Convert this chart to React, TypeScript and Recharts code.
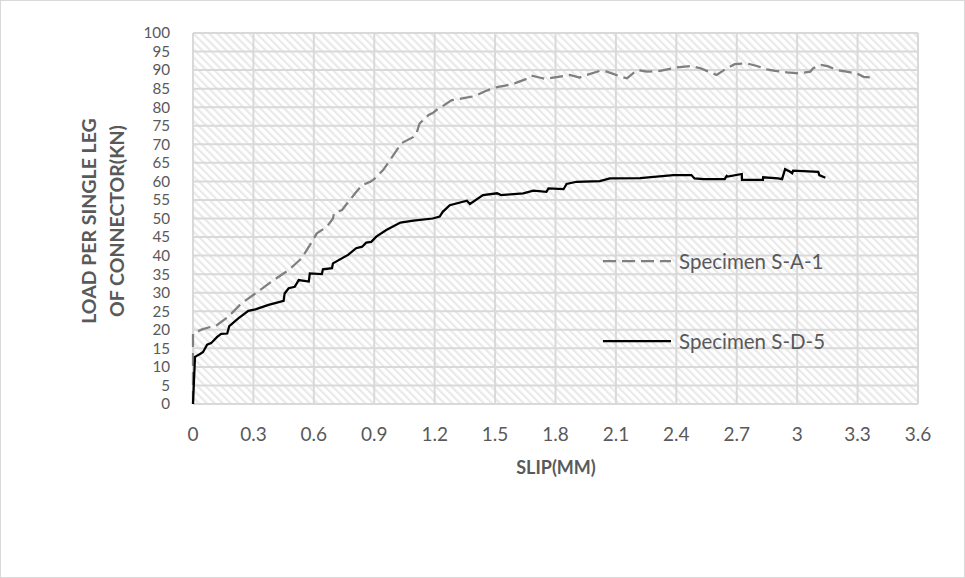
import { LineChart, Line, XAxis, YAxis, CartesianGrid } from 'recharts'

// Specimen S-A-1 (dashed grey)
const slipA = [
  0, 0, 0.045, 0.12, 0.175, 0.24, 0.31, 0.39, 0.475, 0.54, 0.59, 0.615, 0.665, 0.695, 0.7, 0.74,
  0.805, 0.84, 0.88, 0.895, 0.945, 0.995, 1.035, 1.095, 1.11, 1.125, 1.17, 1.19, 1.22, 1.235,
  1.285, 1.35, 1.4, 1.45, 1.5, 1.55, 1.6, 1.65, 1.68, 1.72, 1.75, 1.87, 1.92, 1.955, 2.02, 2.055,
  2.12, 2.155, 2.205, 2.255, 2.32, 2.4, 2.47, 2.52, 2.6, 2.65, 2.69, 2.75, 2.8, 2.85, 2.89, 2.95,
  3.01, 3.065, 3.08, 3.12, 3.155, 3.195, 3.245, 3.295, 3.33, 3.375,
]
const loadA = [
  0, 19, 20.1, 21.3, 23.5, 27.1, 29.8, 33, 36.1, 39.3, 43.7, 46, 47.8, 50, 51.4, 52.3,
  56.8, 59, 59.9, 60.4, 63.1, 67.1, 70.3, 72, 73, 75.6, 77.9, 78.4, 79.7, 80.1,
  81.9, 82.5, 83, 84.3, 85.3, 85.8, 86.5, 87.5, 88.5, 88, 87.6, 88.7, 88, 88.7, 89.8, 89.6,
  88.3, 87.8, 90, 89.6, 89.8, 90.7, 91.1, 90.5, 88.7, 90.5, 91.6, 91.8, 91.1, 90.2, 89.8, 89.4,
  89.1, 89.6, 90.5, 91.4, 91, 90, 89.6, 89.1, 88.2, 88,
]

// Specimen S-D-5 (solid black)
const slipD = [
  0, 0.005, 0.01, 0.035, 0.05, 0.07, 0.09, 0.12, 0.14, 0.17, 0.18, 0.225, 0.275, 0.31, 0.375,
  0.45, 0.455, 0.475, 0.505, 0.525, 0.575, 0.58, 0.64, 0.645, 0.69, 0.695, 0.77, 0.81, 0.84,
  0.86, 0.885, 0.91, 0.96, 1.03, 1.095, 1.19, 1.225, 1.24, 1.275, 1.36, 1.375, 1.44, 1.51, 1.53,
  1.575, 1.64, 1.69, 1.755, 1.765, 1.84, 1.855, 1.905, 2.02, 2.07, 2.22, 2.385, 2.475, 2.49,
  2.535, 2.64, 2.65, 2.655, 2.725, 2.726, 2.73, 2.83, 2.831, 2.905, 2.925, 2.94, 2.965, 2.975,
  2.98, 3.105, 3.11, 3.14,
]
const loadD = [
  0, 6.5, 12.7, 13.5, 14, 16, 16.4, 18.1, 18.9, 19, 21, 23.1, 25.1, 25.5, 26.7,
  27.8, 29.8, 31.2, 31.6, 33.4, 33, 35.2, 35, 36.3, 36.6, 37.9, 40.2, 42, 42.4,
  43.5, 43.7, 45.1, 46.9, 48.9, 49.4, 50, 50.5, 51.8, 53.6, 54.8, 53.9, 56.3, 56.8, 56.3,
  56.5, 56.8, 57.5, 57.2, 58.1, 57.9, 59.3, 59.9, 60.1, 60.8, 60.9, 61.7, 61.7, 60.8,
  60.6, 60.6, 61.5, 61.3, 62, 60.4, 60.4, 60.4, 61.1, 60.8, 60.6, 63.3, 62.6, 62.2,
  62.9, 62.6, 61.7, 61,
]

const xTicks = [0, 0.3, 0.6, 0.9, 1.2, 1.5, 1.8, 2.1, 2.4, 2.7, 3, 3.3, 3.6]
const yTicks = [0, 5, 10, 15, 20, 25, 30, 35, 40, 45, 50, 55, 60, 65, 70, 75, 80, 85, 90, 95, 100]

const seriesA = slipA.map((s, i) => ({ slip: s, load: loadA[i] }))
const seriesD = slipD.map((s, i) => ({ slip: s, load: loadD[i] }))

const FONT = 'Lato, "Open Sans", sans-serif'
const TEXT = '#595959'

export default function App() {
  return (
    <div
      style={{
        position: 'absolute',
        left: 0,
        top: 0,
        width: 965,
        height: 578,
        boxSizing: 'border-box',
        border: '1px solid #d9d9d9',
        background: '#fff',
        fontFamily: FONT,
      }}
    >
      <svg width={0} height={0} style={{ position: 'absolute' }}>
        <defs>
          <pattern
            id="hatch"
            patternUnits="userSpaceOnUse"
            width={5.6}
            height={5.6}
            patternTransform="rotate(-45)"
          >
            <rect x={0} y={0} width={5.6} height={5.6} fill="#ffffff" />
            <rect x={0} y={0} width={2.2} height={5.6} fill="#e9e9e9" />
          </pattern>
        </defs>
      </svg>
      <div style={{ position: 'absolute', left: -1, top: -1 }}>
        <LineChart width={965} height={578} margin={{ top: 33, right: 47, bottom: 134, left: 133 }}>
          <CartesianGrid stroke="#d9d9d9" strokeWidth={2} fill="url(#hatch)" fillOpacity={1} />
          <XAxis
            type="number"
            dataKey="slip"
            domain={[0, 3.6]}
            ticks={xTicks}
            allowDuplicatedCategory={false}
            axisLine={false}
            tickLine={false}
            tickSize={0}
            tickMargin={24}
            height={40}
            interval={0}
            tick={{ fill: TEXT, fontSize: 19, fontFamily: FONT }}
          />
          <YAxis
            type="number"
            domain={[0, 100]}
            ticks={yTicks}
            axisLine={false}
            tickLine={false}
            tickSize={0}
            tickMargin={23}
            width={60}
            interval={0}
            tick={{ fill: TEXT, fontSize: 15.2, fontFamily: FONT }}
          />
          <Line
            data={seriesA}
            dataKey="load"
            name="Specimen S-A-1"
            type="linear"
            stroke="#7f7f7f"
            strokeWidth={2.25}
            strokeDasharray="13 6"
            dot={false}
            isAnimationActive={false}
          />
          <Line
            data={seriesD}
            dataKey="load"
            name="Specimen S-D-5"
            type="linear"
            stroke="#000000"
            strokeWidth={2.25}
            dot={false}
            isAnimationActive={false}
          />
        </LineChart>
      </div>

      {/* legend */}
      <div style={{ position: 'absolute', left: 602, top: 247, color: TEXT, fontSize: 20.5 }}>
        <div style={{ display: 'flex', alignItems: 'center', height: 26 }}>
          <svg width={68} height={6}>
            <line x1={0} y1={3} x2={68} y2={3} stroke="#7f7f7f" strokeWidth={2.25} strokeDasharray="13 6" />
          </svg>
          <span style={{ marginLeft: 8 }}>Specimen S-A-1</span>
        </div>
        <div style={{ display: 'flex', alignItems: 'center', height: 26, marginTop: 54 }}>
          <svg width={68} height={6}>
            <line x1={0} y1={3} x2={68} y2={3} stroke="#000" strokeWidth={2.25} />
          </svg>
          <span style={{ marginLeft: 8 }}>Specimen S-D-5</span>
        </div>
      </div>

      {/* axis titles */}
      <div
        style={{
          position: 'absolute',
          left: 102,
          top: 220,
          transform: 'translate(-50%, -50%) rotate(-90deg)',
          whiteSpace: 'nowrap',
          textAlign: 'center',
          lineHeight: '28px',
          fontSize: 19.5,
          fontWeight: 'bold',
          color: TEXT,
        }}
      >
        LOAD PER SINGLE LEG
        <br />
        OF CONNECTOR(KN)
      </div>
      <div
        style={{
          position: 'absolute',
          left: 555,
          top: 466,
          transform: 'translate(-50%, -50%)',
          whiteSpace: 'nowrap',
          fontSize: 18,
          fontWeight: 'bold',
          color: TEXT,
        }}
      >
        SLIP(MM)
      </div>
    </div>
  )
}
